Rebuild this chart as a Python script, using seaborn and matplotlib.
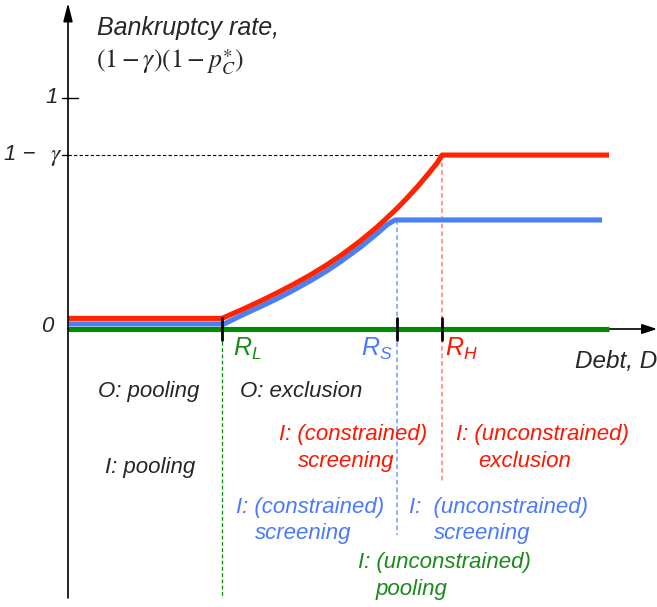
import numpy as np
import pandas as pd
import seaborn as sns
from matplotlib import pyplot as plt

# thresholds on the debt axis
R_L, R_S, R_H = 1.54, 3.29, 3.74
ONE_MINUS_GAMMA = 0.753
BLUE_CAP = 0.472

# bankruptcy-rate schedules, small offsets keep lines apart
red_x = [0.0, 1.54, 1.75, 1.92, 2.09, 2.25, 2.42, 2.59, 2.75, 2.92, 3.09, 3.19,
         3.29, 3.39, 3.49, 3.59, 3.69, 3.74, 5.41]
red_y = [0.046, 0.046, 0.086, 0.120, 0.156, 0.192, 0.233, 0.278, 0.325, 0.380,
         0.441, 0.481, 0.522, 0.567, 0.614, 0.665, 0.718, 0.753, 0.753]
blue_x = [0.0, 1.56, 1.75, 1.92, 2.09, 2.25, 2.42, 2.59, 2.75, 2.92, 3.09, 3.19,
          3.27, 5.34]
blue_y = [0.022, 0.022, 0.062, 0.096, 0.131, 0.167, 0.208, 0.252, 0.299, 0.353,
          0.413, 0.451, 0.472, 0.472]
green_x = [0.0, 5.41]
green_y = [0.0, 0.0]

RED, BLUE, GREEN = '#ff2400', '#4a80f2', '#008c00'
RED_T, BLUE_T, GREEN_T = '#ff1500', '#4a78ff', '#1a8a1a'

sns.set_style('white')
plt.rcParams['font.family'] = ['Liberation Sans', 'DejaVu Sans']
plt.rcParams['mathtext.fontset'] = 'custom'
plt.rcParams['mathtext.it'] = 'Liberation Sans:italic'
plt.rcParams['mathtext.rm'] = 'Liberation Sans'

fig = plt.figure(figsize=(6.57, 6.07), dpi=100)
ax = fig.add_axes([0, 0, 1, 1])
ax.set_xlim(-0.68, 5.89)
ax.set_ylim(-278 / 231.0, 329 / 231.0)
ax.axis('off')


def px(x, y):
    # image pixel -> data coords (for placing labels)
    return (x - 68) / 100.0, (329 - y) / 231.0


df = pd.concat([
    pd.DataFrame({'debt': blue_x, 'rate': blue_y, 's': 'blue'}),
    pd.DataFrame({'debt': red_x, 'rate': red_y, 's': 'red'}),
    pd.DataFrame({'debt': green_x, 'rate': green_y, 's': 'green'}),
])
for name, col in [('blue', BLUE), ('red', RED), ('green', GREEN)]:
    sub = df[df['s'] == name]
    sns.lineplot(data=sub, x='debt', y='rate', ax=ax, color=col, lw=3.7,
                 sort=False, estimator=None, solid_capstyle='butt',
                 solid_joinstyle='round', zorder=3)
ax.set_xlabel('')
ax.set_ylabel('')

# axes with arrows
x0, ybot = px(68, 598)
_, ytop = px(68, 3)
ax.annotate('', xy=(0, ytop), xytext=(0, ybot),
            arrowprops=dict(arrowstyle='-|>,head_length=1.1,head_width=0.28',
                            color='black', lw=1.2, shrinkA=0, shrinkB=0))
xr, _ = px(657, 329)
ax.annotate('', xy=(xr, 0), xytext=(0, 0),
            arrowprops=dict(arrowstyle='-|>,head_length=0.9,head_width=0.3',
                            color='black', lw=1.2, shrinkA=0, shrinkB=0), zorder=1)

# dashed guides
ax.plot([0, R_H], [ONE_MINUS_GAMMA] * 2, color='black', lw=0.8, ls=(0, (3, 2)))
ax.plot([R_L, R_L], [0, px(0, 598)[1]], color=GREEN, lw=0.9, ls=(0, (3, 2)), zorder=1)
ax.plot([R_S, R_S], [BLUE_CAP, px(0, 535)[1]], color='#6b9bff', lw=1.1, ls=(0, (3, 2)), zorder=1)
ax.plot([R_H, R_H], [ONE_MINUS_GAMMA, px(0, 483)[1]], color='#ff7a6a', lw=1.1,
        ls=(0, (3, 2)), zorder=1)

# ticks
for r in [R_L, R_S, R_H]:
    ax.plot([r, r], [0.048, -0.048], color='black', lw=2, zorder=5)
ax.plot([-0.06, 0.10], [1, 1], color='black', lw=1.0)
ax.plot([-0.06, 0.0], [ONE_MINUS_GAMMA] * 2, color='black', lw=1.0)

fs = 16
kw = dict(style='italic', fontsize=fs, va='center')

ax.text(*px(97, 28), 'Bankruptcy rate,', fontsize=18, style='italic', va='center')
ax.text(*px(96, 62), r'$(1-\gamma)(1-p_C^{\ast})$', fontsize=18.5, va='center',
        math_fontfamily='stix')
ax.text(*px(58, 98), '1', ha='right', **kw)
ax.text(*px(4, 155), '1 \u2212', ha='left', **kw)
ax.text(*px(50, 157), r'$\gamma$', ha='left', fontsize=17, va='center', math_fontfamily='stix')
ax.text(*px(47, 327), '0', ha='center', **kw)

rkw = dict(style='italic', fontsize=18, va='center', ha='left')
ax.text(*px(233, 349), '$R_L$', color=GREEN_T, **rkw)
ax.text(*px(361, 349), '$R_S$', color=BLUE_T, **rkw)
ax.text(*px(445, 349), '$R_H$', color=RED_T, **rkw)
ax.text(*px(575, 362), 'Debt, D', ha='left', style='italic', fontsize=17.5, va='center')

ax.text(*px(98, 392), 'O: pooling', ha='left', **kw)
ax.text(*px(240, 392), 'O: exclusion', ha='left', **kw)
ax.text(*px(105, 468), 'I: pooling', ha='left', **kw)

ax.text(*px(353, 435), 'I: (constrained)', color=RED_T, ha='center', **kw)
ax.text(*px(346, 462), 'screening', color=RED_T, ha='center', **kw)
ax.text(*px(542, 435), 'I: (unconstrained)', color=RED_T, ha='center', **kw)
ax.text(*px(525, 462), 'exclusion', color=RED_T, ha='center', **kw)

ax.text(*px(310, 507), 'I: (constrained)', color=BLUE_T, ha='center', **kw)
ax.text(*px(303, 533), 'screening', color=BLUE_T, ha='center', **kw)
ax.text(*px(409, 507), 'I:  (unconstrained)', color=BLUE_T, ha='left', **kw)
ax.text(*px(434, 533), 'screening', color=BLUE_T, ha='left', **kw)

ax.text(*px(444, 563), 'I: (unconstrained)', color=GREEN_T, ha='center', **kw)
ax.text(*px(411, 590), 'pooling', color=GREEN_T, ha='center', **kw)

fig.savefig('out.png', dpi=100)
